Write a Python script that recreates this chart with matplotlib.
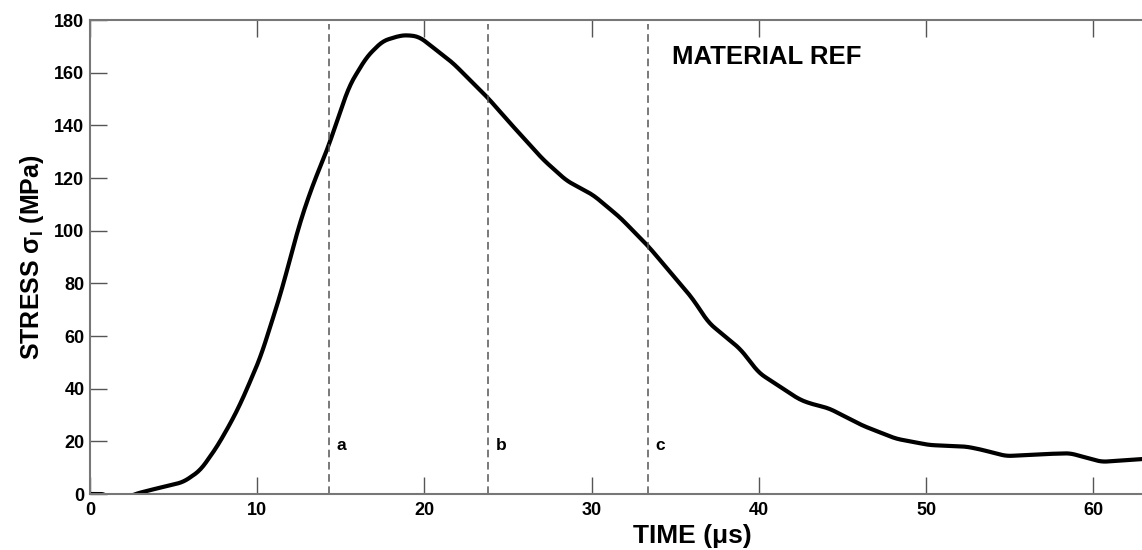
import numpy as np
import matplotlib
matplotlib.use("Agg")
import matplotlib.pyplot as plt

# czas [us] i naprezenie [MPa]
czas = [0.0, 0.5, 1.0, 1.2, 2.0, 2.7, 3.6, 4.6, 5.6, 6.6, 7.6, 8.5, 9.1, 10.2,
        11.4, 12.55, 13.3, 14.2, 15.5, 16.55, 17.5, 18.5, 19.0, 19.7, 21.7,
        23.8, 25.1, 27.1, 28.5, 30.1, 31.7, 33.4, 36.0, 37.0, 38.9, 40.0,
        41.2, 42.4, 43.0, 44.2, 46.2, 48.2, 50.2, 52.4, 53.2, 54.8, 57.2,
        58.6, 60.5, 62.9]
naprezenie = [0.0, 0.0, 0.0, -2.0, -2.0, 0.0, 1.5, 3.0, 4.6, 9.0, 18.0, 28.0,
              35.7, 52.0, 76.0, 103.0, 117.0, 131.0, 155.0, 166.0, 172.0,
              174.0, 174.3, 173.6, 163.7, 150.4, 141.0, 127.0, 119.0, 113.5,
              105.0, 94.0, 74.5, 65.0, 55.0, 46.0, 41.0, 36.0, 34.5, 32.5,
              26.0, 21.0, 18.6, 18.0, 17.0, 14.4, 15.2, 15.5, 12.2, 13.3]

linie = [14.3, 23.8, 33.35]
etykiety = ["a", "b", "c"]

plt.rcParams["font.family"] = ["Liberation Sans", "DejaVu Sans"]
plt.rcParams["font.weight"] = "bold"

fig = plt.figure(figsize=(11.42, 5.5), dpi=100)
# oryginalny wykres byl uciety z prawej strony - os siega poza obraz
ax = fig.add_axes([0.0788, 0.1018, 1.0543, 0.8618])

# gladka krzywa przez odczytane punkty
t = np.linspace(czas[0], czas[-1], 800)
s = np.interp(t, czas, naprezenie)
k = np.ones(9) / 9
s = np.convolve(np.pad(s, 4, mode="edge"), k, mode="valid")
ax.plot(t, s, color="black", lw=3.0, solid_capstyle="round")

for x, lab in zip(linie, etykiety):
    ax.plot([x, x], [0, 178.5], color="#555555", lw=1.1, ls=(0, (5, 3)))
    ax.text(x + 0.45, 18.5, lab, fontsize=12.5, fontweight="bold", ha="left", va="center")

ax.text(34.8, 166, "MATERIAL REF", fontsize=18.5, fontweight="bold", ha="left", va="center")

ax.set_xlim(0, 72)
ax.set_ylim(0, 180)
ax.set_xticks(np.arange(0, 61, 10))
ax.set_yticks(np.arange(0, 181, 20))
ax.tick_params(direction="in", length=12, width=1.0, color="#555555",
               labelsize=13, top=True, right=True)
ax.tick_params(axis="x", pad=6)
ax.tick_params(axis="y", pad=4)
for lbl in ax.get_xticklabels() + ax.get_yticklabels():
    lbl.set_fontweight("bold")
for sp in ax.spines.values():
    sp.set_color("#777777")
    sp.set_linewidth(1.5)

ax.set_xlabel("TIME (μs)", fontsize=19, fontweight="bold", labelpad=3)
ax.set_ylabel(r"STRESS σ$_\mathregular{I}$ (MPa)", fontsize=18, fontweight="bold", labelpad=6)

fig.savefig("out.png", dpi=100)
